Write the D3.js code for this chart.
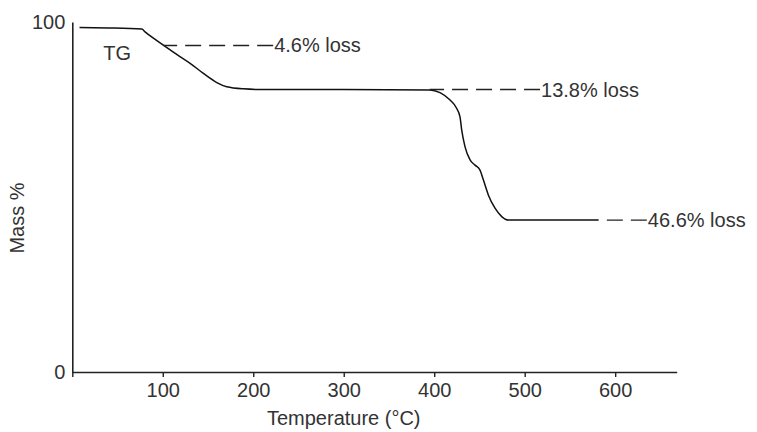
<!DOCTYPE html>
<html>
<head>
<meta charset="utf-8">
<script src="https://cdn.jsdelivr.net/npm/d3@7"></script>
<style>
  html, body { margin: 0; padding: 0; background: #fff; }
  svg { display: block; }
  text { font-family: "Liberation Sans", Arial, Helvetica, sans-serif; fill: #333; }
</style>
</head>
<body>
<svg id="chart" width="757" height="432"></svg>
<script>
// ---- data ----
const temperature = [8, 40, 76.8, 80.4, 90, 100.7, 115, 130.2, 144.9, 159.7, 170.7, 189, 211, 300, 395,
                     406.4, 417.5, 424.9, 428.5, 430.4, 434, 439.6, 445.1, 450.6, 454.3, 459.8, 467.2,
                     474.6, 481.9, 581.5];
const massPct = [98.4, 98.3, 98.0, 97.2, 95.3, 93.4, 90.8, 88.2, 85.3, 82.7, 81.5, 80.9, 80.7, 80.7, 80.6,
                 79.8, 77.7, 75.3, 72.9, 69.1, 64.4, 60.6, 59.1, 57.7, 54.9, 50.6, 46.8,
                 44.4, 43.4, 43.4];
const lossLabels = ["4.6% loss", "13.8% loss", "46.6% loss"];
const lossMass = [93.3, 80.7, 43.4];
const lossFrom = [100.7, 395, 581.5];
const lossTo = [222, 517, 635];
const xTicks = [0, 100, 200, 300, 400, 500, 600];
const yTicks = [0, 100];
const seriesLabel = "TG";
const seriesLabelAt = [34.3, 89.1];
const xTitle = "Temperature (°C)";
const yTitle = "Mass %";

// ---- layout ----
const svg = d3.select("#chart");
const x = d3.scaleLinear().domain([0, 668]).range([72.3, 676.7]);
const y = d3.scaleLinear().domain([0, 100]).range([372, 22]);

// x axis
const xAxis = svg.append("g")
  .attr("transform", `translate(0,${y(0)})`)
  .call(d3.axisBottom(x).tickValues(xTicks).tickSize(5).tickSizeOuter(0)
        .tickPadding(6).tickFormat(d => d === 0 ? "" : d));
xAxis.select(".domain").attr("stroke", "#222").attr("stroke-width", 1.6);
xAxis.selectAll(".tick line").attr("stroke", "#222").attr("stroke-width", 1.4);
xAxis.selectAll(".tick text").attr("font-size", 20).attr("fill", "#333")
  .attr("font-family", "Liberation Sans, Arial, sans-serif");

// y axis
const yAxis = svg.append("g")
  .attr("transform", `translate(${x(0)},0)`)
  .call(d3.axisLeft(y).tickValues(yTicks).tickSize(0).tickSizeOuter(0).tickPadding(7));
yAxis.select(".domain").attr("stroke", "#222").attr("stroke-width", 1.6);
yAxis.selectAll(".tick text").attr("font-size", 20).attr("fill", "#333")
  .attr("font-family", "Liberation Sans, Arial, sans-serif");

// curve
const pts = temperature.map((t, i) => [t, massPct[i]]);
svg.append("path")
  .datum(pts)
  .attr("fill", "none")
  .attr("stroke", "#111")
  .attr("stroke-width", 1.5)
  .attr("d", d3.line().x(d => x(d[0])).y(d => y(d[1])).curve(d3.curveMonotoneX));

// loss annotations (dash pattern anchored at the label end)
lossLabels.forEach((lab, i) => {
  svg.append("line")
    .attr("x1", x(lossTo[i])).attr("x2", x(lossFrom[i]))
    .attr("y1", y(lossMass[i])).attr("y2", y(lossMass[i]))
    .attr("stroke", "#222").attr("stroke-width", 1.4)
    .attr("stroke-dasharray", "16,8");
  svg.append("text")
    .attr("x", x(lossTo[i]) + 1)
    .attr("y", y(lossMass[i]) + 7)
    .attr("font-size", 20)
    .text(lab);
});

// series label
svg.append("text")
  .attr("x", x(seriesLabelAt[0]))
  .attr("y", y(seriesLabelAt[1]))
  .attr("font-size", 20)
  .text(seriesLabel);

// axis titles
svg.append("text")
  .attr("x", x(300))
  .attr("y", 425)
  .attr("text-anchor", "middle")
  .attr("font-size", 20)
  .text(xTitle);

svg.append("text")
  .attr("transform", "translate(24,218) rotate(-90)")
  .attr("text-anchor", "middle")
  .attr("font-size", 20)
  .text(yTitle);
</script>
</body>
</html>
